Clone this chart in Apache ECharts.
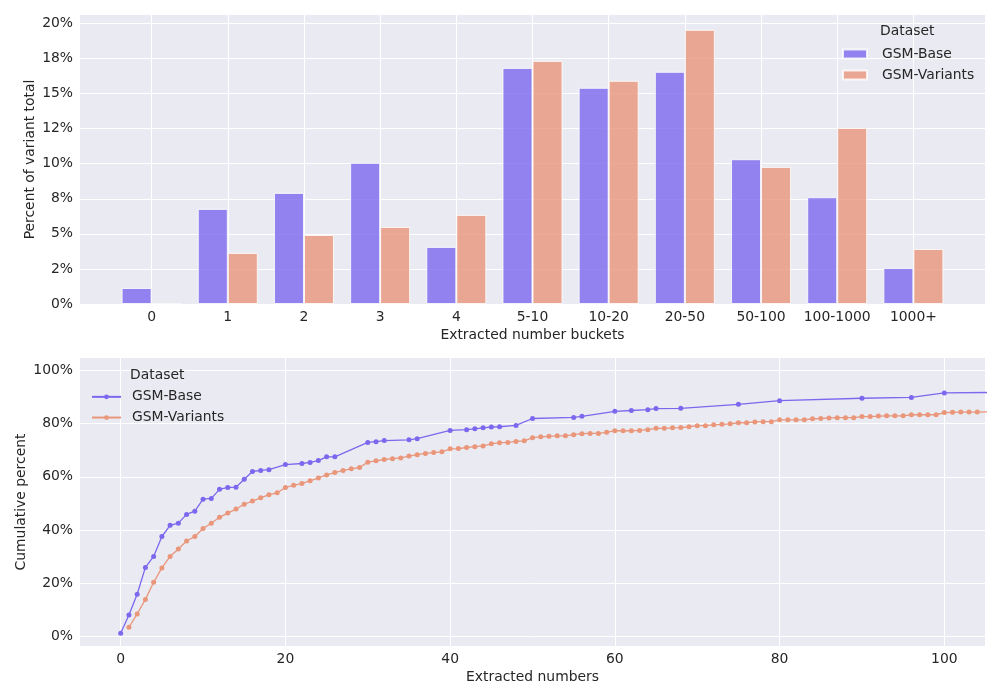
<!DOCTYPE html>
<html>
<head>
<meta charset="utf-8">
<script src="https://cdn.jsdelivr.net/npm/echarts@6/dist/echarts.min.js"></script>
<style>html,body{margin:0;padding:0;background:#fff}#c{width:1000px;height:700px}</style>
</head>
<body>
<div id="c"></div>
<script>
// ---- data ----
const bucketCategories = ['0','1','2','3','4','5-10','10-20','20-50','50-100','100-1000','1000+'];
const baseBucketPct = [1.14, 6.78, 7.92, 10.06, 4.07, 16.83, 15.41, 16.55, 10.32, 7.61, 2.57];
const variantBucketPct = [0, 3.64, 4.92, 5.49, 6.35, 17.33, 15.91, 19.54, 9.77, 12.55, 3.92];
const topYTickValues = [0, 2.5, 5, 7.5, 10, 12.5, 15, 17.5, 20];
const topYTickLabels = ['0%','2%','5%','8%','10%','12%','15%','18%','20%'];

const baseCumX = [0,1,2,3,4,5,6,7,8,9,10,11,12,13,14,15,16,17,18,20,22,23,24,25,26,30,31,32,35,36,40,42,43,44,45,46,48,50,55,56,60,62,64,65,68,75,80,90,96,100,110];
const baseCumY = [1.3,8.1,15.9,26.0,30.1,37.6,41.8,42.6,45.9,47.1,51.6,51.9,55.3,56.0,56.1,59.1,62.0,62.4,62.7,64.6,65.0,65.4,66.1,67.5,67.5,72.9,73.2,73.6,73.9,74.3,77.4,77.7,78.0,78.4,78.7,78.8,79.3,81.9,82.3,82.7,84.6,84.9,85.2,85.6,85.7,87.2,88.6,89.5,89.8,91.5,91.8];
const variantCumX = [1,2,3,4,5,6,7,8,9,10,11,12,13,14,15,16,17,18,19,20,21,22,23,24,25,26,27,28,29,30,31,32,33,34,35,36,37,38,39,40,41,42,43,44,45,46,47,48,49,50,51,52,53,54,55,56,57,58,59,60,61,62,63,64,65,66,67,68,69,70,71,72,73,74,75,76,77,78,79,80,81,82,83,84,85,86,87,88,89,90,91,92,93,94,95,96,97,98,99,100,101,102,103,104,105,107];
const variantCumY = [3.5,8.5,14.0,20.4,25.8,30.1,32.9,35.9,37.6,40.6,42.6,44.8,46.4,47.9,49.7,50.9,52.1,53.3,54.0,56.0,56.8,57.5,58.5,59.6,60.7,61.6,62.4,63.0,63.5,65.5,66.0,66.5,66.8,67.1,67.8,68.3,68.8,69.1,69.4,70.5,70.6,71.0,71.3,71.6,72.4,72.8,72.9,73.3,73.5,74.7,75.0,75.2,75.4,75.4,75.8,76.2,76.3,76.3,76.7,77.3,77.3,77.3,77.4,77.7,78.2,78.2,78.4,78.5,78.8,79.2,79.2,79.5,79.7,79.9,80.3,80.3,80.6,80.7,80.7,81.4,81.4,81.4,81.4,81.8,81.9,82.1,82.2,82.2,82.2,82.6,82.6,82.8,82.9,82.9,82.9,83.3,83.3,83.3,83.3,84.1,84.2,84.3,84.3,84.3,84.4,84.5];
const bottomXTicks = [0,20,40,60,80,100];
const bottomYTicks = [0,20,40,60,80,100];

// ---- styles ----
const FONT = 'DejaVu Sans';
const FS = 13.9;
const TXT = '#262626';
const BASE_C = 'rgb(123,104,238)';
const VAR_C = 'rgb(233,150,122)';
const BG = '#eaeaf2';

const chart = echarts.init(document.getElementById('c'), null, {renderer: 'canvas'});

const labelStyle = {color: TXT, fontFamily: FONT, fontSize: FS};
const splitLine = {show: true, lineStyle: {color: '#ffffff', width: 1}};

const option = {
  backgroundColor: '#ffffff',
  animation: false,
  textStyle: {fontFamily: FONT},
  title: [
    {text: 'Dataset', left: 880, top: 24.5, padding: 0, textStyle: {color: TXT, fontFamily: FONT, fontSize: FS, fontWeight: 'normal'}},
    {text: 'Dataset', left: 130, top: 368.5, padding: 0, textStyle: {color: TXT, fontFamily: FONT, fontSize: FS, fontWeight: 'normal'}}
  ],
  legend: [
    {
      data: ['GSM-Base', 'GSM-Variants'],
      orient: 'vertical', left: 842, top: 43.5, padding: 0,
      itemWidth: 24, itemHeight: 9, itemGap: 0, icon: 'rect',
      textStyle: {color: TXT, fontFamily: FONT, fontSize: FS, lineHeight: 21, padding: [0, 0, 0, 10]},
      selectedMode: false
    },
    {
      data: ['GSM-Base ', 'GSM-Variants '],
      formatter: n => n.trim(),
      orient: 'vertical', left: 91, top: 386.5, padding: 0,
      itemWidth: 29, itemHeight: 6, itemGap: 0,
      textStyle: {color: TXT, fontFamily: FONT, fontSize: FS, lineHeight: 20.7, padding: [0, 0, 0, 6]},
      selectedMode: false
    }
  ],
  grid: [
    {left: 80, right: 15, top: 15, height: 289, show: true, backgroundColor: BG, borderWidth: 0, containLabel: false},
    {left: 80, right: 15, top: 358, height: 288, show: true, backgroundColor: BG, borderWidth: 0, containLabel: false}
  ],
  xAxis: [
    {
      gridIndex: 0, type: 'value', min: -0.94, max: 10.94,
      name: 'Extracted number buckets', nameLocation: 'middle', nameGap: 24,
      nameTextStyle: labelStyle,
      axisLine: {show: false}, axisTick: {show: false, customValues: bucketCategories.map((c, i) => i)},
      axisLabel: Object.assign({customValues: bucketCategories.map((c, i) => i), margin: 6,
        formatter: v => bucketCategories[Math.round(v)]}, labelStyle),
      splitLine: splitLine
    },
    {
      gridIndex: 1, type: 'value', min: -4.94, max: 104.94,
      name: 'Extracted numbers', nameLocation: 'middle', nameGap: 24,
      nameTextStyle: labelStyle,
      axisLine: {show: false}, axisTick: {show: false, customValues: bottomXTicks},
      axisLabel: Object.assign({customValues: bottomXTicks, margin: 6, formatter: v => String(v)}, labelStyle),
      splitLine: splitLine
    }
  ],
  yAxis: [
    {
      gridIndex: 0, type: 'value', min: 0, max: 20.6,
      name: 'Percent of variant total', nameLocation: 'middle', nameGap: 43, nameMoveOverlap: false,
      nameTextStyle: labelStyle,
      axisLine: {show: false}, axisTick: {show: false, customValues: topYTickValues},
      axisLabel: Object.assign({customValues: topYTickValues, margin: 7,
        formatter: v => topYTickLabels[topYTickValues.indexOf(v)]}, labelStyle),
      splitLine: splitLine
    },
    {
      gridIndex: 1, type: 'value', min: -3.5, max: 104.6,
      name: 'Cumulative percent', nameLocation: 'middle', nameGap: 52, nameMoveOverlap: false,
      nameTextStyle: labelStyle,
      axisLine: {show: false}, axisTick: {show: false, customValues: bottomYTicks},
      axisLabel: Object.assign({customValues: bottomYTicks, margin: 7, formatter: v => v + '%'}, labelStyle),
      splitLine: splitLine
    }
  ],
  series: [
    {
      name: 'GSM-Base', type: 'bar', xAxisIndex: 0, yAxisIndex: 0,
      data: baseBucketPct.map((v, i) => [i, v]),
      barWidth: 30, barGap: '0%',
      itemStyle: {color: BASE_C, opacity: 0.8, borderColor: '#ffffff', borderWidth: 1}
    },
    {
      name: 'GSM-Variants', type: 'bar', xAxisIndex: 0, yAxisIndex: 0,
      data: variantBucketPct.map((v, i) => [i, v]),
      barWidth: 30, barGap: '0%',
      itemStyle: {color: VAR_C, opacity: 0.8, borderColor: '#ffffff', borderWidth: 1}
    },
    {
      name: 'GSM-Base ', type: 'line', xAxisIndex: 1, yAxisIndex: 1,
      data: baseCumX.map((x, i) => [x, baseCumY[i]]),
      symbol: 'circle', symbolSize: 5, clip: true,
      lineStyle: {color: BASE_C, width: 1.3},
      itemStyle: {color: BASE_C}
    },
    {
      name: 'GSM-Variants ', type: 'line', xAxisIndex: 1, yAxisIndex: 1,
      data: variantCumX.map((x, i) => [x, variantCumY[i]]),
      symbol: 'circle', symbolSize: 5, clip: true,
      lineStyle: {color: VAR_C, width: 1.3},
      itemStyle: {color: VAR_C}
    }
  ]
};
chart.setOption(option);
</script>
</body>
</html>
